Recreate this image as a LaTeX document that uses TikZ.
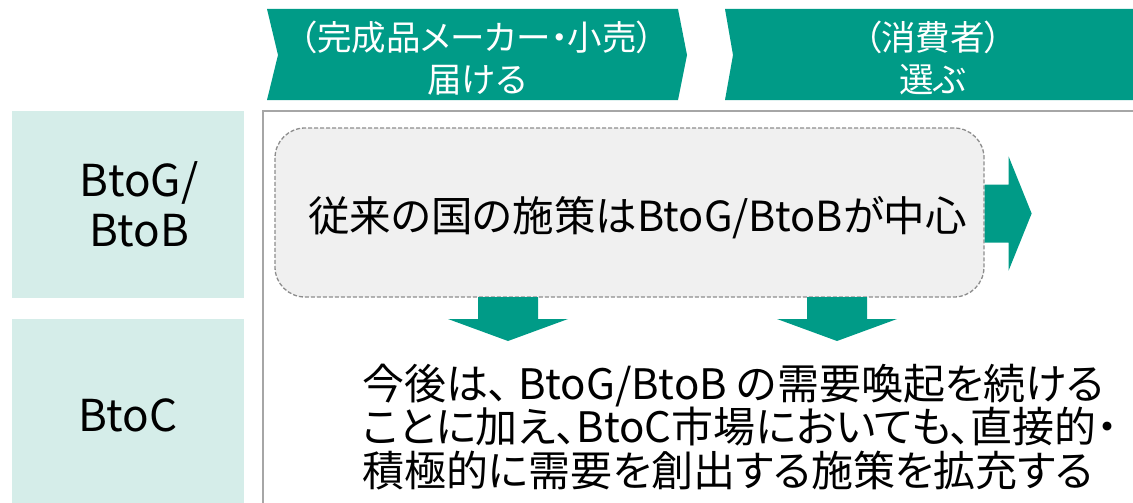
\documentclass[tikz,border=0pt]{standalone}
\usepackage{fontspec}
\setmainfont[RawFeature=+palt]{Noto Sans CJK JP}
\usepackage{tikz}
\usetikzlibrary{positioning}

\definecolor{headteal}{RGB}{0,155,135}
\definecolor{rowteal}{RGB}{213,237,233}
\definecolor{framegray}{RGB}{166,166,166}
\definecolor{boxgray}{RGB}{240,240,240}

\begin{document}
\begin{tikzpicture}[x=1pt,y=-1pt,every node/.style={inner sep=0pt,align=center},
  chev/.style={fill=headteal},
  headtext/.style={text=white,font=\fontsize{34.5}{42}\selectfont},
  rowbox/.style={fill=rowteal,minimum width=232pt,font=\fontsize{44}{50}\selectfont},
  fatarrow/.style={fill=headteal}]
  \useasboundingbox (0,0) rectangle (1133,503);
  \clip (0,0) rectangle (1133,503);

  \fill[chev] (267,9) -- (678,9) -- (687,55) -- (678,100) -- (267,100) -- (278,55) -- cycle;
  \fill[chev] (725,9) -- (1145,9) -- (1145,100) -- (725,100) -- (733,55) -- cycle;
  \node[headtext] (maker) at (477,58) {（完成品メーカー・小売）\\届ける};
  \node[headtext] (consumer) at (933,58) {（消費者）\\選ぶ};

  \node[rowbox,minimum height=187pt,label={[xshift=11pt,font=\fontsize{44}{50}\selectfont]center:{BtoG/\\BtoB}}] (btob) at (128,204.5) {};
  \node[rowbox,minimum height=192pt] (btoc) at (128,415) {BtoC};

  \draw[framegray,line width=1.5pt] (263,510) -- (263,111) -- (1145,111);

  \node[draw=framegray!85!black,dash pattern=on 4pt off 2pt,line width=1.3pt,fill=boxgray,rounded corners=30pt,minimum width=709pt,minimum height=169pt,
    label={[xshift=8pt,yshift=-5pt,font=\fontsize{41.5}{46}\selectfont]center:従来の国の施策はBtoG/BtoBが中心}] (old) at (629.5,212.5) {};

  \fill[fatarrow] (old.east) ++(0,-28) -- ++(24,0) -- ++(0,-28) -- ++(23,57) -- ++(-23,57) -- ++(0,-28) -- ++(-24,0) -- cycle;
  \fill[fatarrow] (478,297) -- (538,297) -- (538,319) -- (568,319) -- (508,341) -- (448,319) -- (478,319) -- cycle;
  \fill[fatarrow] (807,297) -- (867,297) -- (867,319) -- (897,319) -- (837,341) -- (777,319) -- (807,319) -- cycle;

  \node[anchor=west,align=left,font=\fontsize{42}{43.5}\selectfont] (future) at (362,427) {今後は、 BtoG/BtoB の需要喚起を続ける\\ことに加え、BtoC市場においても、直接的・\\積極的に需要を創出する施策を拡充する};
\end{tikzpicture}
\end{document}
